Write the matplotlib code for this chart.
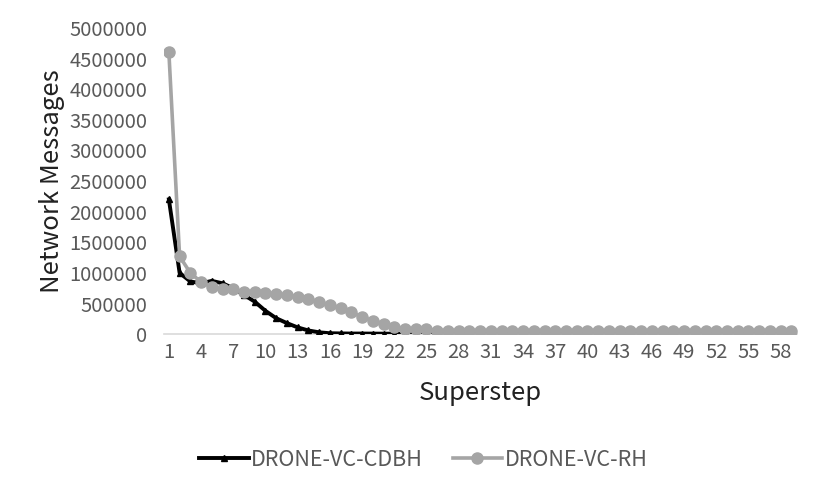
import matplotlib
matplotlib.use("Agg")
import matplotlib.pyplot as plt

plt.rcParams['font.family'] = ['Noto Sans CJK SC', 'DejaVu Sans']
plt.rcParams['font.weight'] = 'light'

# superstep numbers and message counts
steps = list(range(1, 60))
cdbh = [2200000, 1000000, 860000, 830000, 870000, 830000, 750000, 640000, 530000, 380000,
        260000, 180000, 110000, 60000, 30000, 15000, 12000, 10000, 10000, 9000,
        8000, 8000, 7000, 6000, 6000, 6000, 5000, 5000, 5000, 5000,
        5000, 5000, 5000, 5000, 5000, 5000, 5000, 5000, 5000, 5000,
        5000, 5000, 5000, 5000, 5000, 5000, 5000, 5000, 5000, 5000,
        5000, 5000, 5000, 5000, 5000, 5000, 5000, 5000, 5000]
rh = [4600000, 1270000, 1000000, 850000, 770000, 740000, 730000, 690000, 690000, 680000,
      650000, 640000, 610000, 570000, 530000, 470000, 430000, 360000, 280000, 220000,
      170000, 120000, 90000, 80000, 80000, 55000, 50000, 50000, 50000, 50000,
      50000, 50000, 50000, 50000, 50000, 50000, 50000, 50000, 50000, 50000,
      50000, 50000, 50000, 50000, 50000, 50000, 50000, 50000, 50000, 50000,
      50000, 50000, 50000, 50000, 50000, 50000, 50000, 50000, 50000]
yticks = [0, 500000, 1000000, 1500000, 2000000, 2500000, 3000000, 3500000, 4000000, 4500000, 5000000]

txt = '#595959'

fig = plt.figure(figsize=(8.3, 4.98), dpi=100)
ax = fig.add_axes([0.197, 0.329, 0.763, 0.615])

idx = list(range(len(steps)))
ax.plot(idx, cdbh, color='black', lw=2.8, marker='^', ms=5, label='DRONE-VC-CDBH', zorder=2)
ax.plot(idx, rh, color='#a5a5a5', lw=2.6, marker='o', ms=8, label='DRONE-VC-RH', zorder=3)

ax.set_xlim(-0.5, len(steps) - 0.5)
ax.set_ylim(0, 5000000)
ax.set_yticks(yticks)
ax.set_yticklabels([str(v) for v in yticks])
ax.set_xticks(idx[::3])
ax.set_xticklabels([str(s) for s in steps[::3]])

for s in ['top', 'right', 'left']:
    ax.spines[s].set_visible(False)
ax.spines['bottom'].set_color('#d9d9d9')
ax.spines['bottom'].set_linewidth(1.2)
ax.spines['bottom'].set_zorder(1)
ax.tick_params(axis='both', length=0, labelsize=14.5, colors=txt)
ax.tick_params(axis='y', pad=11.5)
ax.tick_params(axis='x', pad=6)

ax.set_ylabel('Network Messages', fontsize=18.5, color='#222222', labelpad=3)
ax.set_xlabel('Superstep', fontsize=18.5, color='#222222', labelpad=12)

leg = ax.legend(loc='center', bbox_to_anchor=(0.41, -0.41), ncol=2, frameon=False,
                fontsize=15.5, handlelength=2.3, handletextpad=0.1, columnspacing=1.4)
for t in leg.get_texts():
    t.set_color(txt)

fig.savefig('out.png', dpi=100)
